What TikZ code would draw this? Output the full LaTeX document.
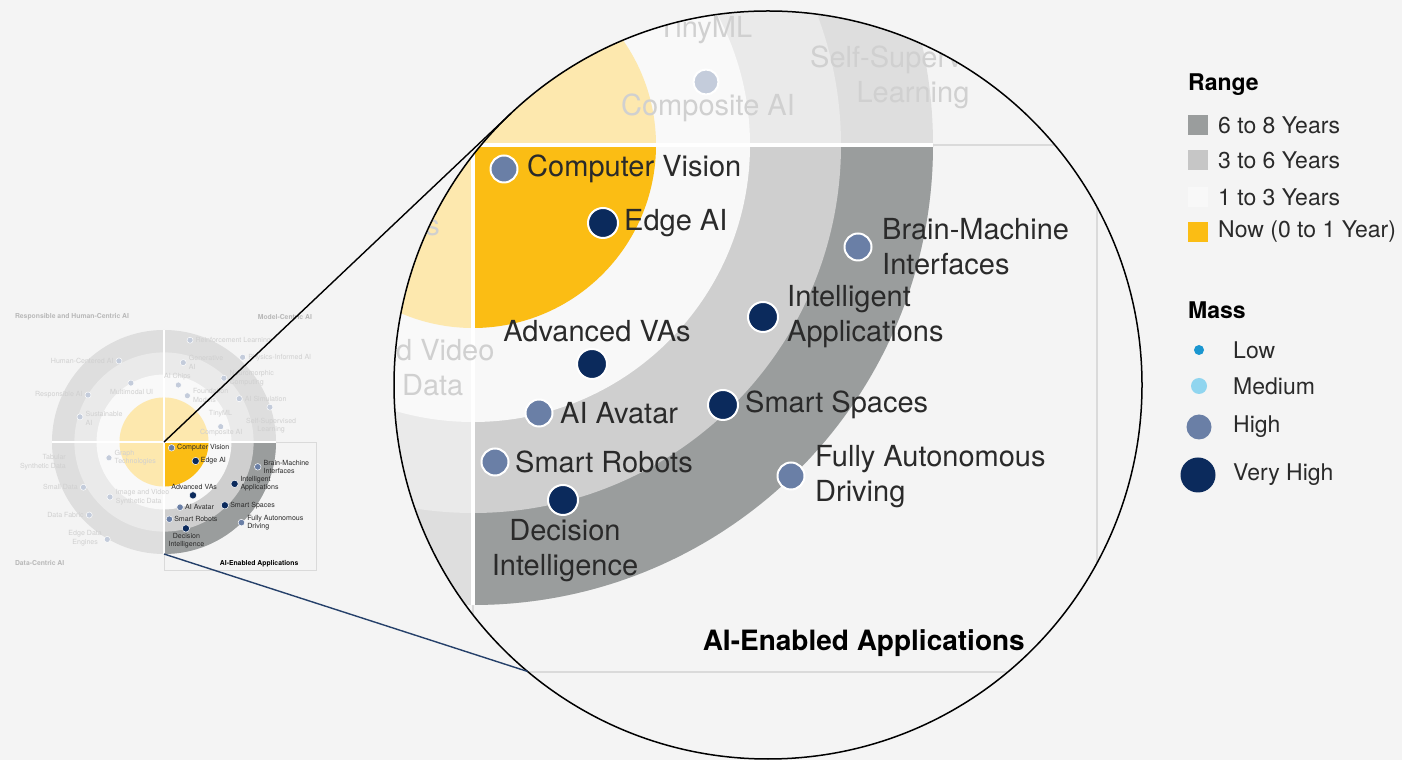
\documentclass[tikz,border=0pt]{standalone}
\usepackage{fontspec}
\setmainfont{TeX Gyre Heros}
\usetikzlibrary{calc}

\definecolor{paper}{HTML}{F4F4F4}
\definecolor{nowY}{HTML}{FBBD14}
\definecolor{nowF}{HTML}{FDE8AE}
\definecolor{ringW}{HTML}{F8F8F8}
\definecolor{ringWF}{HTML}{F9F9F9}
\definecolor{ringL}{HTML}{CFCFCF}
\definecolor{ringLF}{HTML}{EAEAEA}
\definecolor{ringD}{HTML}{9A9D9D}
\definecolor{ringDF}{HTML}{DEDEDE}
\definecolor{legL}{HTML}{C6C6C6}
\definecolor{massLow}{HTML}{1A96D0}
\definecolor{massMed}{HTML}{90D5EF}
\definecolor{massHigh}{HTML}{6A7FA6}
\definecolor{massVH}{HTML}{0B2A5C}
\definecolor{fadeDot}{HTML}{C4CCDB}
\definecolor{fadeTxt}{HTML}{D0D0D0}
\definecolor{fadeTitle}{HTML}{B8B8B8}
\definecolor{lbl}{HTML}{2A2A2A}
\definecolor{frameC}{HTML}{DADADA}
\definecolor{navyline}{HTML}{25406A}

% line-width factor, changed inside scaled copies of the radar
\newcommand\lwf{1}
% the overview copy shows every label; the enlarged copy only what the lens can show
\newif\iffullradar

\tikzset{
  lab/.style={font=\fontsize{29}{35}\selectfont, text=lbl, inner sep=0pt, align=left},
  labc/.style={lab, align=center},
  fade/.style={font=\fontsize{29}{35}\selectfont, text=fadeTxt, inner sep=0pt, align=left},
  fadec/.style={fade, align=center},
  fader/.style={fade, align=right},
  dotH/.style={circle, fill=massHigh, draw=white, line width=\lwf*2pt, minimum size=27pt, inner sep=0pt},
  dotV/.style={dotH, fill=massVH, minimum size=30pt},
  dotF/.style={dotH, fill=fadeDot, minimum size=25pt},
  qtitle/.style={font=\bfseries\fontsize{28}{32}\selectfont, inner sep=0pt, text=fadeTitle},
  leghead/.style={font=\bfseries\fontsize{23}{26}\selectfont, inner sep=0pt, text=black},
  legtxt/.style={font=\fontsize{23}{26}\selectfont, inner sep=0pt, text=lbl},
  legsq/.style={rectangle, minimum size=20pt, inner sep=0pt},
  legdot/.style={circle, inner sep=0pt},
}

% The impact radar in its own coordinates (origin = centre, y up).
% #1 is a prefix for the node names of this copy.
\newcommand\radarbody[1]{%
  % rings of the three faded quadrants
  \fill[ringDF] (0,0) circle[radius=460];
  \fill[ringLF] (0,0) circle[radius=368];
  \fill[ringWF] (0,0) circle[radius=277];
  \fill[nowF]   (0,0) circle[radius=183];
  % AI-enabled applications quadrant in full colour
  \fill[ringD] (0,0) -- (0:460) arc[start angle=0,end angle=-90,radius=460] -- cycle;
  \fill[ringL] (0,0) -- (0:368) arc[start angle=0,end angle=-90,radius=368] -- cycle;
  \fill[ringW] (0,0) -- (0:277) arc[start angle=0,end angle=-90,radius=277] -- cycle;
  \fill[nowY]  (0,0) -- (0:183) arc[start angle=0,end angle=-90,radius=183] -- cycle;
  % quadrant separators and frame
  \draw[white, line width=\lwf*4.5pt] (-460,0) -- (460,0) (0,460) -- (0,-460);
  \draw[frameC, line width=\lwf*1.5pt] (460,0) -- (624,0) -- (624,-527) -- (0,-527) -- (0,-460);
  \node[qtitle, anchor=east, text=black] (#1q4) at (552,-498) {AI-Enabled Applications};
  \iffullradar
    % quadrant titles
    \node[qtitle, anchor=west] (#1q1) at (-612,513) {Responsible and Human-Centric AI};
    \node[qtitle, anchor=east] (#1q2) at (608,513) {Model-Centric AI};
    \node[qtitle, anchor=west] (#1q3) at (-612,-497) {Data-Centric AI};
    % responsible and human-centric AI
    \node[dotF] (#1f1) at (-185,333) {};
    \node[fade, anchor=east] (#1f1t) at (-207,333) {Human-Centered AI};
    \node[dotF] (#1f2) at (-136,242) {};
    \node[fadec] (#1f2t) at (-133,205) {Multimodal UI};
    \node[dotF] (#1f3) at (-312,193) {};
    \node[fade, anchor=east] (#1f3t) at (-334,193) {Responsible AI};
    \node[dotF] (#1f4) at (-345,103) {};
    \node[fade, anchor=west] (#1f4t) at (-322,98) {Sustainable\\AI};
    % model-centric AI
    \node[dotF] (#1m1) at (107,418) {};
    \node[fade, anchor=west] (#1m1t) at (130,418) {Reinforcement Learning};
    \node[dotF] (#1m2) at (79,326) {};
    \node[fade, anchor=west] (#1m2t) at (102,326) {Generative\\AI};
    \node[dotF] (#1m3) at (323,348) {};
    \node[fade, anchor=west] (#1m3t) at (346,348) {Physics-Informed AI};
    \node[dotF] (#1m4) at (59,234) {};
    \node[fadec] (#1m4t) at (55,267) {AI Chips};
    \node[dotF] (#1m5) at (246,262) {};
    \node[fade, anchor=west] (#1m5t) at (269,262) {Neuromorphic\\Computing};
    \node[dotF] (#1m6) at (96,190) {};
    \node[fade, anchor=west] (#1m6t) at (119,190) {Foundation\\Models};
    \node[dotF] (#1m7) at (309,178) {};
    \node[fade, anchor=west] (#1m7t) at (332,178) {AI Simulation};
    \node[dotF] (#1m10) at (435,143) {};
    % data-centric AI
    \node[fader, anchor=east] (#1d1t) at (-403,-82) {Tabular\\Synthetic Data};
    \node[dotF] (#1d3) at (-331,-186) {};
    \node[fade, anchor=east] (#1d3t) at (-354,-186) {Small Data};
    \node[dotF] (#1d5) at (-307,-300) {};
    \node[fade, anchor=east] (#1d5t) at (-330,-300) {Data Fabric};
    \node[dotF] (#1d6) at (-233,-400) {};
    \node[fadec, anchor=east] (#1d6t) at (-255,-395) {Edge Data\\Engines};
  \fi
  % faded labels that also reach into the lens
  \node[fadec] (#1m8t) at (232,115) {TinyML};
  \node[dotF] (#1m9) at (233,63) {};
  \node[fadec] (#1m9t) at (235,37) {Composite AI};
  \node[fadec] (#1m10t) at (440,68) {Self-Supervised\\Learning};
  \node[dotF] (#1d2) at (-226,-65) {};
  \node[fade, anchor=west] (#1d2t) at (-203,-65) {Graph\\Technologies};
  \node[dotF] (#1d4) at (-222,-226) {};
  \node[fade, anchor=west] (#1d4t) at (-198,-226) {Image and Video\\Synthetic Data};
  % AI-enabled applications
  \node[dotH] (#1cv) at (31,-24) {};
  \node[lab, anchor=west] (#1cvt) at (54,-24) {Computer Vision};
  \node[dotV] (#1edge) at (130,-78) {};
  \node[lab, anchor=west] (#1edget) at (151,-78) {Edge AI};
  \node[dotV] (#1va) at (119,-219) {};
  \node[lab] (#1vat) at (124,-186) {Advanced VAs};
  \node[dotV] (#1ia) at (290,-172) {};
  \node[lab, anchor=west] (#1iat) at (314,-172) {Intelligent\\Applications};
  \node[dotH] (#1bmi) at (385,-102) {};
  \node[lab, anchor=west] (#1bmit) at (409,-102) {Brain-Machine\\Interfaces};
  \node[dotH] (#1ava) at (66,-268) {};
  \node[lab, anchor=west] (#1avat) at (87,-268) {AI Avatar};
  \node[dotV] (#1ss) at (250,-260) {};
  \node[lab, anchor=west] (#1sst) at (272,-260) {Smart Spaces};
  \node[dotH] (#1sr) at (22,-317) {};
  \node[lab, anchor=west] (#1srt) at (42,-317) {Smart Robots};
  \node[dotV] (#1di) at (90,-355) {};
  \node[labc] (#1dit) at (92,-406) {Decision\\Intelligence};
  \node[dotH] (#1fad) at (318,-331) {};
  \node[lab, anchor=west] (#1fadt) at (342,-332) {Fully Autonomous\\Driving};
}

\begin{document}
\begin{tikzpicture}[x=1pt,y=1pt]
  \useasboundingbox (0,0) rectangle (1402,760);
  \fill[paper] (0,0) rectangle (1402,760);

  % overview radar
  \begin{scope}[shift={(164,318)}, scale=0.2435, transform shape]
    \renewcommand\lwf{0.2435}
    \fullradartrue
    \radarbody{s}
  \end{scope}
  \coordinate (sc) at (164,318);
  \coordinate (sb) at (164,206);

  % magnifier
  \node[circle, minimum size=748pt, inner sep=0pt, outer sep=0pt, fill=paper] (mag) at (768,375) {};
  \begin{scope}
    \clip (768,375) circle[radius=374];
    \begin{scope}[shift={(473,615)}]
      \fullradarfalse
      \radarbody{b}
    \end{scope}
  \end{scope}
  \draw[line width=1.5pt] (mag.center) circle[radius=374];

  % lines from the overview to the magnifier
  \draw[line width=1.4pt] (sc) -- (tangent cs:node=mag,point={(sc)},solution=2);
  \draw[navyline, line width=1.4pt] (sb) -- (mag.230.3);

  % legend
  \node[leghead, anchor=west] (lgRange) at (1188,675) {Range};
  \node[legsq, fill=ringD] (lgS1) at (1198,635) {};
  \node[legtxt, anchor=west] (lgT1) at (1218,635) {6 to 8 Years};
  \node[legsq, fill=legL] (lgS2) at (1198,600) {};
  \node[legtxt, anchor=west] (lgT2) at (1218,600) {3 to 6 Years};
  \node[legsq, fill=ringW] (lgS3) at (1198,563) {};
  \node[legtxt, anchor=west] (lgT3) at (1218,563) {1 to 3 Years};
  \node[legsq, fill=nowY] (lgS4) at (1198,528) {};
  \node[legtxt, anchor=west] (lgT4) at (1218,528) {Now (0 to 1 Year)};

  \node[leghead, anchor=west] (lgMass) at (1188,450) {Mass};
  \node[legdot, fill=massLow, minimum size=10pt] (lgD1) at (1199,410) {};
  \node[legtxt, anchor=west] (lgU1) at (1233,410) {Low};
  \node[legdot, fill=massMed, minimum size=16pt] (lgD2) at (1199,374) {};
  \node[legtxt, anchor=west] (lgU2) at (1233,374) {Medium};
  \node[legdot, fill=massHigh, minimum size=25pt] (lgD3) at (1199,333) {};
  \node[legtxt, anchor=west] (lgU3) at (1233,333) {High};
  \node[legdot, fill=massVH, minimum size=35pt] (lgD4) at (1198,285) {};
  \node[legtxt, anchor=west] (lgU4) at (1233,285) {Very High};
\end{tikzpicture}
\end{document}
